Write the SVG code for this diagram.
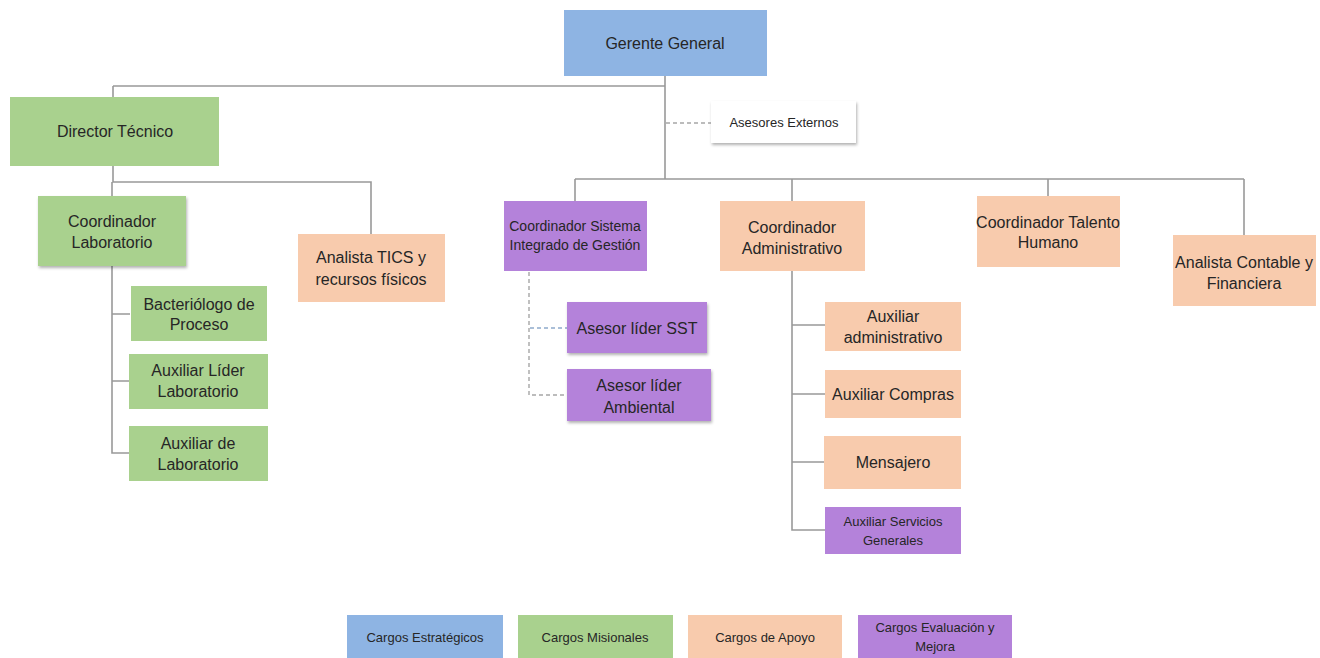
<svg xmlns="http://www.w3.org/2000/svg" width="1320" height="658" viewBox="0 0 1320 658">
<defs>
<filter id="sh" x="-10%" y="-10%" width="125%" height="135%">
<feDropShadow dx="1" dy="2" stdDeviation="1.5" flood-color="#000" flood-opacity="0.3"/>
</filter>
<style>
.t{font-family:"Liberation Sans Narrow","Liberation Sans",Arial,sans-serif;font-size:16px;fill:#262626;text-anchor:middle;}
.s{font-size:14px;}
.xs{font-size:13px;}
.b{fill:#8eb4e3;}
.g{fill:#a9d18e;}
.o{fill:#f8cbad;}
.p{fill:#b482da;}
.w{fill:#ffffff;}
.ln{stroke:#999999;stroke-width:1.6;fill:none;}
.dg{stroke:#a6a6a6;stroke-width:1.4;fill:none;stroke-dasharray:4 3;}
.db{stroke:#8eaacc;stroke-width:1.4;fill:none;stroke-dasharray:4 3;}
</style>
</defs>
<rect width="1320" height="658" fill="#ffffff"/>
<g id="connectors">
<path class="ln" d="M665,76 V179 M113,86 H665 M113,86 V97"/>
<path class="dg" d="M666,123 H711"/>
<path class="ln" d="M575,179 H1244 M575,179 V201 M792,179 V201 M1048,179 V196 M1244,179 V235"/>
<path class="ln" d="M113,166 V182 H371 V234 M112,182 V196"/>
<path class="ln" d="M112,266 V453 H129 M112,314 H130 M112,381 H129"/>
<path class="dg" d="M529,272 V395 H567"/>
<path class="db" d="M530,328 H567"/>
<path class="ln" d="M792,271 V530 H825 M792,325 H825 M792,394 H825 M792,462 H824"/>
</g>
<g id="gerente"><rect class="b" x="564" y="10" width="203" height="66"/><text class="t" x="665" y="49">Gerente General</text></g>
<g id="director"><rect class="g" x="10" y="97" width="209" height="69"/><text class="t" x="115" y="137">Director Técnico</text></g>
<g id="asesores"><rect class="w" x="711" y="101" width="145" height="42" filter="url(#sh)"/><text class="t xs" x="784" y="127">Asesores Externos</text></g>
<g id="coord-lab"><rect class="g" x="38" y="196" width="148" height="70" filter="url(#sh)"/><text class="t" x="112" y="227">Coordinador</text><text class="t" x="112" y="248">Laboratorio</text></g>
<g id="analista-tics"><rect class="o" x="298" y="234" width="147" height="68"/><text class="t" x="371" y="263">Analista TICS y</text><text class="t" x="371" y="285">recursos físicos</text></g>
<g id="bacteriologo"><rect class="g" x="131" y="286" width="136" height="55"/><text class="t" x="199" y="310">Bacteriólogo de</text><text class="t" x="199" y="330">Proceso</text></g>
<g id="aux-lider"><rect class="g" x="129" y="354" width="139" height="55"/><text class="t" x="198" y="376">Auxiliar Líder</text><text class="t" x="198" y="397">Laboratorio</text></g>
<g id="aux-lab"><rect class="g" x="129" y="426" width="139" height="55"/><text class="t" x="198" y="449">Auxiliar de</text><text class="t" x="198" y="470">Laboratorio</text></g>
<g id="coord-sig"><rect class="p" x="504" y="201" width="143" height="70"/><text class="t s" x="575" y="231">Coordinador  Sistema</text><text class="t s" x="575" y="250">Integrado  de  Gestión</text></g>
<g id="asesor-sst"><rect class="p" x="567" y="302" width="140" height="51" filter="url(#sh)"/><text class="t" x="637" y="334">Asesor líder SST</text></g>
<g id="asesor-amb"><rect class="p" x="567" y="369" width="144" height="52" filter="url(#sh)"/><text class="t" x="639" y="391">Asesor líder</text><text class="t" x="639" y="413">Ambiental</text></g>
<g id="coord-adm"><rect class="o" x="720" y="201" width="145" height="70"/><text class="t" x="792" y="233">Coordinador</text><text class="t" x="792" y="254">Administrativo</text></g>
<g id="aux-adm"><rect class="o" x="825" y="302" width="136" height="49"/><text class="t" x="893" y="322">Auxiliar</text><text class="t" x="893" y="343">administrativo</text></g>
<g id="aux-compras"><rect class="o" x="825" y="370" width="136" height="48"/><text class="t" x="893" y="400">Auxiliar Compras</text></g>
<g id="mensajero"><rect class="o" x="824" y="436" width="137" height="53"/><text class="t" x="893" y="468">Mensajero</text></g>
<g id="aux-sg"><rect class="p" x="825" y="507" width="136" height="47"/><text class="t xs" x="893" y="526">Auxiliar  Servicios</text><text class="t xs" x="893" y="545">Generales</text></g>
<g id="coord-th"><rect class="o" x="977" y="196" width="143" height="71"/><text class="t" x="1048" y="228">Coordinador Talento</text><text class="t" x="1048" y="248">Humano</text></g>
<g id="analista-cont"><rect class="o" x="1173" y="235" width="143" height="71"/><text class="t" x="1244" y="268">Analista Contable y</text><text class="t" x="1244" y="289">Financiera</text></g>
<g id="legend">
<rect class="b" x="347" y="615" width="156" height="43"/><text class="t xs" x="425" y="642">Cargos Estratégicos</text>
<rect class="g" x="518" y="615" width="155" height="43"/><text class="t xs" x="595" y="642">Cargos Misionales</text>
<rect class="o" x="688" y="615" width="154" height="43"/><text class="t xs" x="765" y="642">Cargos de Apoyo</text>
<rect class="p" x="858" y="615" width="154" height="43"/><text class="t xs" x="935" y="632">Cargos Evaluación  y</text><text class="t xs" x="935" y="651">Mejora</text>
</g>
</svg>
